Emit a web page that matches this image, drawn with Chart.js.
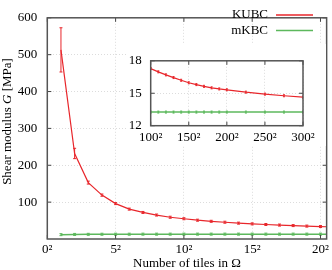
<!DOCTYPE html>
<html><head><meta charset="utf-8">
<script src="https://cdn.jsdelivr.net/npm/chart.js@4"></script>
<style>
html,body{margin:0;padding:0;background:#fff;}
#wrap{position:relative;width:332px;height:270px;overflow:hidden;}
#main{position:absolute;left:0;top:0;}
#inset{position:absolute;left:126px;top:44px;background:#fff;}
</style></head><body>
<div id="wrap"><canvas id="main" width="332" height="270"></canvas><canvas id="inset" width="200" height="102"></canvas></div>
<script>
// ---- data ----
const nMain = [1,2,3,4,5,6,7,8,9,10,11,12,13,14,15,16,17,18,19,20,21];
const kubcMain = [513,232,153,119,96,81,72,65,59,55,51,48,45.5,43,41,39.3,37.8,36.4,35,33.8,32.7];
const kubcMainErr = [60,14,4,3,2,1.5,1.5,1.5,1.5,1.5,1.5,1.5,1.5,1.5,1.5,1.5,1.5,1.5,1.5,1.5,1.5];
const mkbcMain = [11.8,12.4,12.7,12.9,13.0,13.05,13.1,13.1,13.15,13.15,13.2,13.2,13.2,13.2,13.2,13.2,13.2,13.2,13.2,13.2,13.2];
const mkbcMainErr = [1.5,1,1,1,1,1,1,1,1,1,1,1,1,1,1,1,1,1,1,1,1];
const nInset = [100,110,120,130,140,150,160,170,180,190,200,225,250,275,300];
const kubcInset = [17.28,16.98,16.7,16.45,16.2,15.97,15.8,15.64,15.5,15.4,15.32,15.1,14.92,14.77,14.64];
const mkbcInset = [13.26,13.26,13.26,13.26,13.26,13.26,13.26,13.26,13.26,13.26,13.26,13.26,13.26,13.26,13.26];
const insetErr = [0.03,0.03,0.03,0.03,0.03,0.03,0.03,0.03,0.03,0.03,0.03,0.03,0.03,0.03,0.03];
const seriesNames = ['KUBC','mKBC'];
const mainXTicks = [0,5,10,15,20];
const mainYTicks = [100,200,300,400,500,600];
const insetXTicks = [100,150,200,250,300];
const insetYTicks = [12,15,18];
const xTitle = 'Number of tiles in Ω';
const yTitleParts = [['Shear modulus ', false], ['G', true], [' [MPa]', false]];

// ---- styles ----
const RED = '#e8262b';
const GREEN = '#5cb85c';
const FONT = '"Liberation Serif", "DejaVu Serif", serif';
Chart.defaults.font.family = FONT;
Chart.defaults.color = '#000';

function pts(xs, ys){ return xs.map((x,i)=>({x:x, y:ys[i]})); }

function errorAndFrame(opts){
  return {
    id: 'errframe',
    afterDatasetsDraw(chart){
      const ctx = chart.ctx, ca = chart.chartArea, ys = chart.scales.y;
      chart.data.datasets.forEach((ds,i)=>{
        const meta = chart.getDatasetMeta(i);
        ctx.save();
        ctx.beginPath(); ctx.rect(ca.left, ca.top-1, ca.right-ca.left, ca.bottom-ca.top+1); ctx.clip();
        ctx.strokeStyle = ds.borderColor; ctx.lineWidth = 1;
        meta.data.forEach((pt,j)=>{
          const v = ds.data[j].y, e = ds.errors[j];
          let y1 = ys.getPixelForValue(v-e), y2 = ys.getPixelForValue(v+e);
          if (Math.abs(y1-y2) < 2){ const m=(y1+y2)/2; y1=m+1; y2=m-1; }
          const x = pt.x, c = opts.cap || 1.5;
          ctx.beginPath();
          ctx.moveTo(x,y1); ctx.lineTo(x,y2);
          ctx.moveTo(x-c,y1); ctx.lineTo(x+c,y1);
          ctx.moveTo(x-c,y2); ctx.lineTo(x+c,y2);
          ctx.stroke();
        });
        ctx.restore();
      });
    },
    afterDraw(chart){
      const ctx = chart.ctx, ca = chart.chartArea, xs = chart.scales.x, ys = chart.scales.y;
      const tl = 4;
      ctx.save();
      ctx.strokeStyle = '#444'; ctx.lineWidth = 1;
      xs.ticks.forEach(t=>{
        const x = xs.getPixelForValue(t.value);
        ctx.beginPath();
        ctx.moveTo(x, ca.bottom); ctx.lineTo(x, ca.bottom-tl);
        ctx.moveTo(x, ca.top); ctx.lineTo(x, ca.top+tl);
        ctx.stroke();
      });
      ys.ticks.forEach(t=>{
        const y = ys.getPixelForValue(t.value);
        ctx.beginPath();
        ctx.moveTo(ca.left, y); ctx.lineTo(ca.left+tl, y);
        ctx.moveTo(ca.right, y); ctx.lineTo(ca.right-tl, y);
        ctx.stroke();
      });
      ctx.strokeStyle = '#555'; ctx.lineWidth = 1.5;
      ctx.strokeRect(ca.left, ca.top, ca.right-ca.left, ca.bottom-ca.top);
      ctx.restore();
      if (opts.after) opts.after(chart);
    }
  };
}

function mainExtras(chart){
  const ctx = chart.ctx, ca = chart.chartArea;
  ctx.save();
  // legend
  ctx.font = '13px ' + FONT;
  ctx.textAlign = 'right'; ctx.textBaseline = 'middle'; ctx.fillStyle = '#000';
  const ly = [15, 30.5];
  chart.data.datasets.forEach((ds,i)=>{
    ctx.fillText(ds.label, 268, ly[i]);
    ctx.strokeStyle = ds.borderColor; ctx.lineWidth = 1.3;
    ctx.beginPath(); ctx.moveTo(276, ly[i]); ctx.lineTo(313, ly[i]); ctx.stroke();
  });
  // x title
  ctx.textAlign = 'center';
  ctx.fillText(xTitle, (ca.left+ca.right)/2, 264);
  // y title
  ctx.translate(8, 121.5);
  ctx.rotate(-Math.PI/2);
  let W = 0;
  yTitleParts.forEach(p=>{ ctx.font = (p[1]?'italic ':'') + '13px ' + FONT; W += ctx.measureText(p[0]).width; });
  let x = -W/2;
  ctx.textAlign = 'left';
  yTitleParts.forEach(p=>{ ctx.font = (p[1]?'italic ':'') + '13px ' + FONT; ctx.fillText(p[0], x, 0); x += ctx.measureText(p[0]).width; });
  ctx.restore();
}

const gridOpts = { color: '#dcdcdc', drawTicks: false };
const borderOpts = { display: false, dash: [1,2] };

new Chart(document.getElementById('main'), {
  type: 'line',
  data: { datasets: [
    { label: seriesNames[0], data: pts(nMain, kubcMain), errors: kubcMainErr, borderColor: RED, backgroundColor: RED, borderWidth: 1.2, pointRadius: 0, tension: 0 },
    { label: seriesNames[1], data: pts(nMain, mkbcMain), errors: mkbcMainErr, borderColor: GREEN, backgroundColor: GREEN, borderWidth: 1.5, pointRadius: 0, tension: 0 }
  ]},
  options: {
    responsive: false, animation: false, devicePixelRatio: 1,
    layout: { padding: { top: 5.7, right: 3, left: 0, bottom: 0 } },
    plugins: { legend: { display: false }, tooltip: { enabled: false } },
    scales: {
      x: { type: 'linear', min: 0, max: 20.45,
        afterFit: s => { s.height = 31; },
        afterBuildTicks: s => { s.ticks = mainXTicks.map(v=>({value:v})); },
        ticks: { padding: 3, font: { size: 13 }, callback: v => v + '²', maxRotation: 0, autoSkip: false },
        grid: gridOpts, border: borderOpts },
      y: { type: 'linear', min: 0, max: 600,
        afterFit: s => { s.width = 47.3; },
        afterBuildTicks: s => { s.ticks = mainYTicks.map(v=>({value:v})); },
        ticks: { padding: 10, font: { size: 13 }, autoSkip: false },
        grid: gridOpts, border: borderOpts }
    }
  },
  plugins: [errorAndFrame({ after: mainExtras, cap: 1.5 })]
});

new Chart(document.getElementById('inset'), {
  type: 'line',
  data: { datasets: [
    { label: seriesNames[0], data: pts(nInset, kubcInset), errors: insetErr, borderColor: RED, backgroundColor: RED, borderWidth: 1.2, pointRadius: 0, tension: 0 },
    { label: seriesNames[1], data: pts(nInset, mkbcInset), errors: insetErr, borderColor: GREEN, backgroundColor: GREEN, borderWidth: 1.5, pointRadius: 0, tension: 0 }
  ]},
  options: {
    responsive: false, animation: false, devicePixelRatio: 1,
    layout: { padding: { top: 12, right: 23, left: 0, bottom: 0 } },
    plugins: { legend: { display: false }, tooltip: { enabled: false } },
    scales: {
      x: { type: 'linear', min: 100, max: 300,
        afterFit: s => { s.height = 20.3; },
        afterBuildTicks: s => { s.ticks = insetXTicks.map(v=>({value:v})); },
        ticks: { padding: 4, font: { size: 13 }, callback: v => v + '²', maxRotation: 0, autoSkip: false },
        grid: gridOpts, border: borderOpts },
      y: { type: 'linear', min: 12, max: 18,
        afterFit: s => { s.width = 24.7; },
        afterBuildTicks: s => { s.ticks = insetYTicks.map(v=>({value:v})); },
        ticks: { padding: 9, font: { size: 13 }, autoSkip: false },
        grid: gridOpts, border: borderOpts }
    }
  },
  plugins: [errorAndFrame({ cap: 1 })]
});
</script>
</body></html>
